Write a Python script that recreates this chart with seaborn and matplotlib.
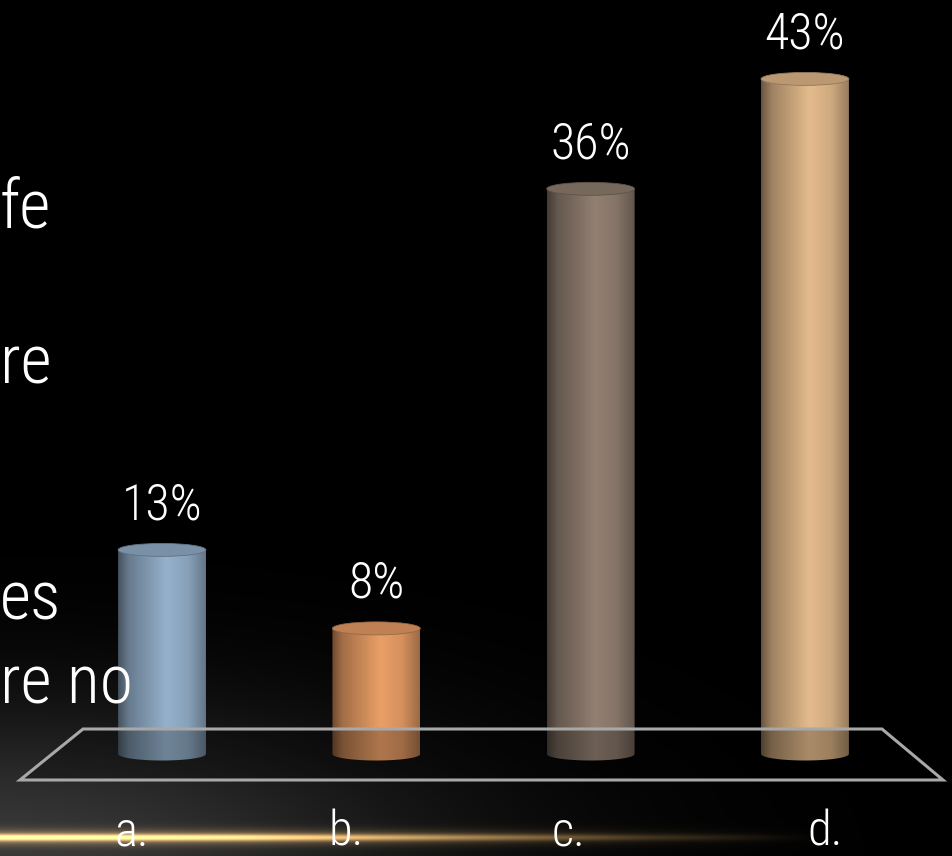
import numpy as np
import matplotlib
matplotlib.use("Agg")
import matplotlib.pyplot as plt
import seaborn as sns
from matplotlib import font_manager
from matplotlib.patches import Ellipse, Polygon, PathPatch
from matplotlib.path import Path
from matplotlib.colors import to_rgb

# données du graphique
categories = ["a.", "b.", "c.", "d."]
values = [13, 8, 36, 43]
value_labels = ["13%", "8%", "36%", "43%"]
bar_colors = ["#8aa4bd", "#d9935f", "#877669", "#d3ad82"]
side_text = ["fe", "re", "es", "re no"]

W, H = 952, 856
sns.set_theme(style="white")

# police étroite si disponible
installed = {f.name for f in font_manager.fontManager.ttflist}
wanted = ["Liberation Sans Narrow", "Roboto Condensed", "Arial Narrow", "Roboto"]
font = next((f for f in wanted if f in installed), "DejaVu Sans")
plt.rcParams["font.family"] = [font, "DejaVu Sans"]
plt.rcParams["font.weight"] = "light"

fig = plt.figure(figsize=(W / 100, H / 100), dpi=100)
fig.patch.set_facecolor("black")

# fond : halo gris en bas à gauche + trait orange lumineux
yy, xx = np.mgrid[0:H, 0:W]
glow = 0.22 * np.exp(-((xx / 430.0) ** 2 + ((H - yy) / 150.0) ** 2))
bg_img = np.dstack([glow, glow, glow])
line_amp = np.interp(xx, [0, 250, 450, 650, 820], [1.0, 0.9, 0.55, 0.2, 0.0])
core = np.exp(-((yy - 837) / 3.2) ** 2) * line_amp * 0.85
halo = np.exp(-((yy - 837) / 8.0) ** 2) * line_amp * 0.4
orange = np.array([0.93, 0.72, 0.40])
bg_img = bg_img + (core + halo)[..., None] * orange
bg_img = np.clip(bg_img, 0, 1)

bg = fig.add_axes([0, 0, 1, 1])
bg.imshow(bg_img, extent=[0, 1, 0, 1], aspect="auto", origin="upper")
bg.set_axis_off()

# plancher en perspective (coordonnées figure)
floor_px = [(83, 729), (882, 729), (943, 780), (20, 780)]
floor = Polygon([(x / W, 1 - y / H) for x, y in floor_px], closed=True,
                facecolor=(0, 0, 0, 0.25), edgecolor="#a8a8a8", lw=2.2,
                transform=fig.transFigure, zorder=1)
fig.patches.append(floor)

ax = fig.add_axes([0, 0, 1, 1])
ax.patch.set_alpha(0)
sns.barplot(x=categories, y=values, hue=categories, palette=bar_colors,
            width=0.41, legend=False, ax=ax)

px_per_unit = 15.7
ax.set_xlim(-0.756, 3.686)
ax.set_ylim(-(H - 754) / px_per_unit, 754 / px_per_unit)
ax.set_axis_off()

eh = 13 / px_per_unit
shade = np.interp(np.linspace(0, 1, 200), [0, 0.12, 0.55, 0.8, 1.0],
                  [0.5, 0.75, 1.08, 0.98, 0.72])

for bar, col, lab in zip(ax.patches, bar_colors, value_labels):
    x0, w, h = bar.get_x(), bar.get_width(), bar.get_height()
    cx = x0 + w / 2
    bar.set_visible(False)
    rgb = np.array(to_rgb(col))
    grad = np.clip(shade[:, None] * rgb[None, :], 0, 1)[None, :, :]
    # contour du cylindre : rectangle + demi-ellipse du bas
    t = np.linspace(np.pi, 2 * np.pi, 60)
    verts = [(x0, h), (x0, 0)]
    verts += list(zip(cx + w / 2 * np.cos(t), eh / 2 * np.sin(t)))
    verts += [(x0 + w, 0), (x0 + w, h), (x0, h)]
    clip = PathPatch(Path(verts, closed=True), transform=ax.transData)
    im = ax.imshow(grad, extent=[x0, x0 + w, -eh / 2, h], aspect="auto",
                   zorder=3)
    im.set_clip_path(clip)
    top_col = np.clip(rgb * 0.88, 0, 1)
    ax.add_patch(Ellipse((cx, h), w, eh, facecolor=top_col,
                         edgecolor=np.clip(rgb * 0.7, 0, 1), lw=0.6, zorder=4))
    ax.annotate(lab, (cx, h), xytext=(0, 22), textcoords="offset points",
                ha="center", va="baseline", color="white", fontsize=36,
                zorder=5)

# étiquettes de catégories (décalées par la perspective)
label_shift = [-30, -30, -22, 20]
for i, (cat, dx) in enumerate(zip(categories, label_shift)):
    ax.annotate(cat, (i, 0), xycoords=("data", "figure fraction"),
                xytext=(dx * 0.72, 0), textcoords="offset points",
                ha="center", va="bottom", color="white", fontsize=35,
                zorder=5)

# texte de la diapositive coupé à gauche
for txt, base in zip(side_text, [228, 383, 620, 703]):
    fig.text(0.0, 1 - base / H, txt, color="white", fontsize=49,
             ha="left", va="baseline", zorder=10)

fig.savefig("out.png", dpi=100, facecolor="black")
